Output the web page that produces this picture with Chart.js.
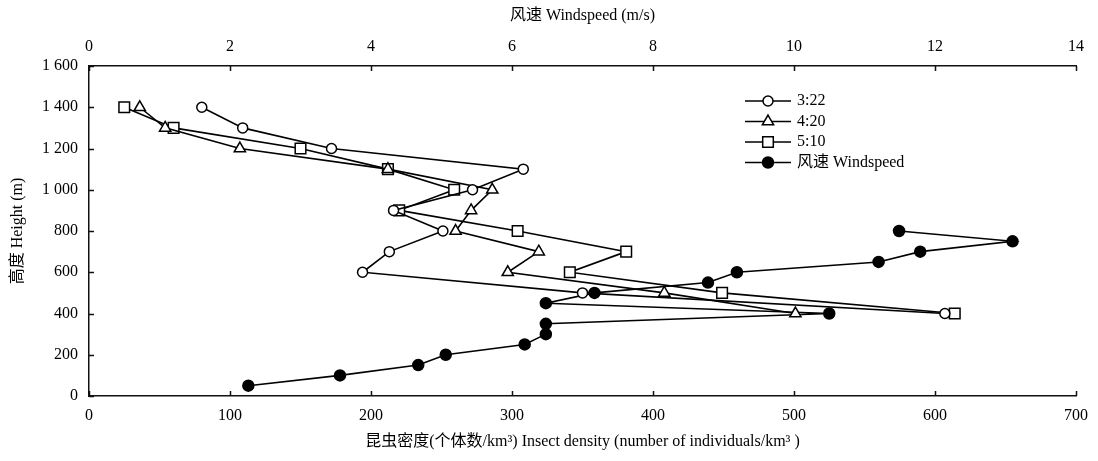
<!DOCTYPE html>
<html>
<head>
<meta charset="utf-8">
<script src="https://cdn.jsdelivr.net/npm/chart.js@4.4.1/dist/chart.umd.min.js"></script>
<style>
    html, body { margin: 0; padding: 0; background: #fff; }
    #wrap { width: 1098px; height: 461px; }
</style>
</head>
<body>
<div id="wrap"><canvas id="heightChart"></canvas></div>
<script>
// heights (m) of the density samples and of the windspeed samples
const densityHeights = [400, 500, 600, 700, 800, 900, 1000, 1100, 1200, 1300, 1400];
const windHeights = [50, 100, 150, 200, 250, 300, 350, 400, 450, 500, 550, 600, 650, 700, 750, 800];

// insect density (individuals/km3), ascending height
const density0322 = [607, 350, 194, 213, 251, 216, 272, 308, 172, 109, 80];
const density0420 = [501, 408, 297, 319, 260, 271, 286, 212, 107, 54, 36];
const density0510 = [614, 449, 341, 381, 304, 220, 259, 212, 150, 60, 25];

// windspeed (m/s), ascending height
const windspeed = [2.26, 3.56, 4.67, 5.06, 6.18, 6.48, 6.48, 10.5, 6.48, 7.17, 8.78, 9.19, 11.2, 11.79, 13.1, 11.49];

const seriesLabels = ['3:22', '4:20', '5:10', '风速 Windspeed'];
const densityTicks = [0, 100, 200, 300, 400, 500, 600, 700];
const windTicks = [0, 2, 4, 6, 8, 10, 12, 14];
const heightTicks = [0, 200, 400, 600, 800, 1000, 1200, 1400, 1600];

const toPoints = (xs, ys) => xs.map((v, i) => ({ x: v, y: ys[i] }));
const fmtHeight = v => v >= 1000 ? String(v).replace(/(\d)(\d{3})$/, '$1 $2') : String(v);

const FONT = "'Liberation Serif', 'Noto Sans CJK SC', serif";
Chart.defaults.font.family = FONT;
Chart.defaults.font.size = 16;
Chart.defaults.color = '#000';

// inward tick marks on the three axes
const innerTicks = {
    id: 'innerTicks',
    afterDraw(chart) {
        const ctx = chart.ctx;
        const area = chart.chartArea;
        ctx.save();
        ctx.strokeStyle = '#111';
        ctx.lineWidth = 1.5;
        ctx.beginPath();
        chart.scales.x.ticks.forEach(t => {
            const px = Math.round(chart.scales.x.getPixelForValue(t.value)) + 0.5;
            ctx.moveTo(px, area.bottom);
            ctx.lineTo(px, area.bottom - 5);
        });
        chart.scales.x2.ticks.forEach(t => {
            const px = Math.round(chart.scales.x2.getPixelForValue(t.value)) + 0.5;
            ctx.moveTo(px, area.top);
            ctx.lineTo(px, area.top + 5);
        });
        chart.scales.y.ticks.forEach(t => {
            const py = Math.round(chart.scales.y.getPixelForValue(t.value)) + 0.5;
            ctx.moveTo(area.left, py);
            ctx.lineTo(area.left + 5, py);
        });
        ctx.stroke();
        ctx.restore();
    }
};

// legend drawn inside the plot, upper right
const innerLegend = {
    id: 'innerLegend',
    afterDraw(chart) {
        const ctx = chart.ctx;
        const x0 = 745, x1 = 791, xm = 768, xt = 797;
        ctx.save();
        chart.data.datasets.forEach((ds, i) => {
            const y = 101 + i * 20.5;
            ctx.strokeStyle = '#000';
            ctx.lineWidth = 1.6;
            ctx.beginPath();
            ctx.moveTo(x0, y);
            ctx.lineTo(x1, y);
            ctx.stroke();
            ctx.fillStyle = ds.pointBackgroundColor;
            ctx.strokeStyle = ds.pointBorderColor;
            ctx.lineWidth = ds.pointBorderWidth;
            Chart.helpers.drawPoint(ctx, {
                pointStyle: ds.pointStyle,
                rotation: 0,
                radius: ds.pointRadius,
                borderWidth: ds.pointBorderWidth
            }, xm, y);
            ctx.fillStyle = '#000';
            ctx.font = '16px ' + FONT;
            ctx.textBaseline = 'middle';
            ctx.textAlign = 'left';
            ctx.fillText(ds.label, xt, y);
        });
        ctx.restore();
    }
};

const makeSet = (label, data, style, radius, fill, axis) => ({
    label: label,
    data: data,
    xAxisID: axis,
    showLine: true,
    borderColor: '#000',
    borderWidth: 1.6,
    pointStyle: style,
    pointRadius: radius,
    pointHoverRadius: radius,
    pointBackgroundColor: fill,
    pointBorderColor: '#000',
    pointBorderWidth: 1.5,
    clip: false,
});

const heightChart = () => {
    const ctx = document.getElementById('heightChart').getContext('2d');

    new Chart(ctx, {
        type: 'scatter',
        data: {
            datasets: [
                makeSet(seriesLabels[0], toPoints(density0322, densityHeights), 'circle', 5, '#fff', 'x'),
                makeSet(seriesLabels[1], toPoints(density0420, densityHeights), 'triangle', 6.5, '#fff', 'x'),
                makeSet(seriesLabels[2], toPoints(density0510, densityHeights), 'rect', 7.5, '#fff', 'x'),
                makeSet(seriesLabels[3], toPoints(windspeed, windHeights), 'circle', 5.5, '#000', 'x2'),
            ]
        },
        options: {
            responsive: true,
            maintainAspectRatio: false,
            animation: false,
            layout: {
                padding: { left: 0, right: 21, top: 0, bottom: 0 }
            },
            scales: {
                x: {
                    type: 'linear',
                    position: 'bottom',
                    min: densityTicks[0],
                    max: densityTicks[densityTicks.length - 1],
                    afterBuildTicks: s => { s.ticks = densityTicks.map(v => ({ value: v })); },
                    afterFit: s => { s.height = 65; },
                    grid: { drawOnChartArea: false, drawTicks: false },
                    border: { display: true, color: '#111', width: 1.5 },
                    ticks: { padding: 10, maxRotation: 0, font: { size: 16 } },
                    title: {
                        display: true,
                        text: '昆虫密度(个体数/km³) Insect density (number of individuals/km³ )',
                        font: { size: 16 },
                        padding: { top: 0, bottom: 10 }
                    }
                },
                x2: {
                    type: 'linear',
                    position: 'top',
                    min: windTicks[0],
                    max: windTicks[windTicks.length - 1],
                    afterBuildTicks: s => { s.ticks = windTicks.map(v => ({ value: v })); },
                    afterFit: s => { s.height = 66; },
                    grid: { drawOnChartArea: false, drawTicks: false },
                    border: { display: true, color: '#111', width: 1.5 },
                    ticks: { padding: 10, maxRotation: 0, font: { size: 16 } },
                    title: {
                        display: true,
                        text: '风速 Windspeed (m/s)',
                        font: { size: 16 },
                        padding: { top: 6, bottom: 0 }
                    }
                },
                y: {
                    type: 'linear',
                    min: heightTicks[0],
                    max: heightTicks[heightTicks.length - 1],
                    afterBuildTicks: s => { s.ticks = heightTicks.map(v => ({ value: v })); },
                    afterFit: s => { s.width = 89; },
                    grid: { drawOnChartArea: false, drawTicks: false },
                    border: { display: true, color: '#111', width: 1.5 },
                    ticks: { padding: 11, font: { size: 16 }, callback: v => fmtHeight(v) },
                    title: {
                        display: true,
                        text: '高度 Height (m)',
                        font: { size: 16 },
                        padding: { top: 8, bottom: 0 }
                    }
                }
            },
            plugins: {
                legend: { display: false },
                tooltip: { enabled: false }
            }
        },
        plugins: [innerTicks, innerLegend]
    });
}

document.addEventListener('DOMContentLoaded', heightChart);
</script>
</body>
</html>
